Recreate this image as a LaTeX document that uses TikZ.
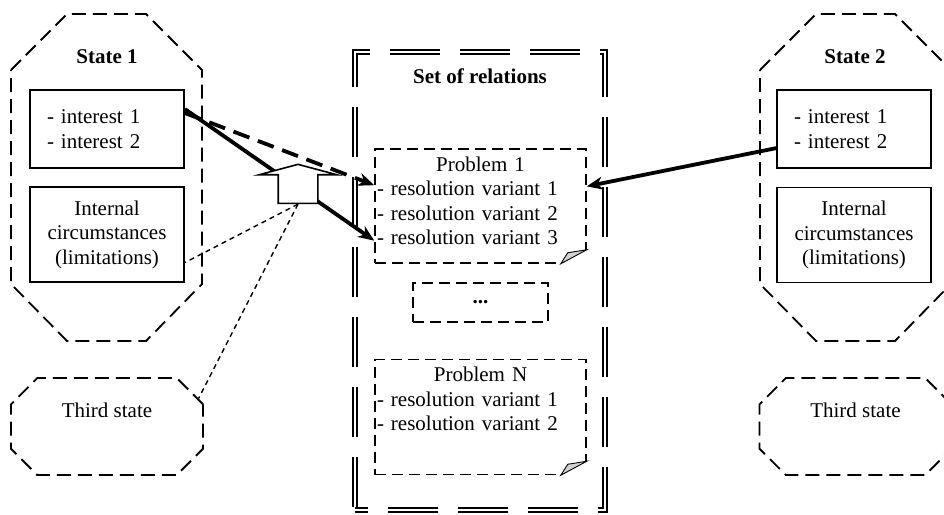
\documentclass[tikz,border=0pt]{standalone}
\usepackage{fontspec}
\setmainfont{Liberation Serif}
\usetikzlibrary{positioning, calc, arrows.meta,
shapes.misc, % chamfered rectangle for the third states
shapes.arrows % the white block arrow
}
\tikzset{%
  every node/.style={font=\fontsize{21}{24.5}\selectfont},
  statedash/.style={line width=1.8pt, dash pattern=on 14pt off 7pt},
  thirdbox/.style={chamfered rectangle, chamfered rectangle xsep=29pt, draw, statedash,
    minimum width=192pt, minimum height=97pt, inner sep=0pt, align=center},
  title/.style={font=\fontsize{21}{24.5}\selectfont\bfseries},
  intbox/.style={draw, line width=1.8pt, text width=120pt, inner xsep=17pt, minimum height=78pt, align=left},
  limbox/.style={draw, line width=1.8pt, minimum width=154pt, minimum height=95pt, align=center},
  relbox/.style={draw, double, double distance=2.4pt, line width=1.6pt, dash pattern=on 50pt off 20pt,
    dash phase=37pt, minimum width=250pt, minimum height=458pt},
  probbox/.style={draw, line width=1.5pt, dash pattern=on 11pt off 6pt, text width=207pt, inner xsep=2pt,
    inner ysep=0pt, text height=22pt, text depth=92pt, align=left},
  dotsbox/.style={draw, line width=1.5pt, dash pattern=on 11pt off 6pt, minimum width=135pt, minimum height=39pt},
  uparrow/.style={single arrow, draw, fill=white, line width=1.6pt, rotate=90, inner xsep=0pt, inner ysep=19pt,
    minimum height=39pt, single arrow head extend=19pt, single arrow tip angle=150},
  bigline/.style={line width=3.8pt, -{Stealth[length=16pt, width=13pt, inset=5pt]}},
  bigdash/.style={bigline, dash pattern=on 17pt off 9pt},
  thinlink/.style={line width=1.4pt, dash pattern=on 5pt off 4pt}
}

\begin{document}
\begin{tikzpicture}[x=1pt, y=-1pt]
\clip (0,0) rectangle (944,514);

% the two state octagons
\foreach \cx in {106.5, 855.5} {
  \draw[statedash] (\cx-95.5,70) -- (\cx-39.5,14) -- (\cx+39.5,14) -- (\cx+95.5,70)
    -- (\cx+95.5,284) -- (\cx+39.5,341) -- (\cx-39.5,341) -- (\cx-95.5,284) -- cycle;
}

% state 1
\node[title] (s1title) at (107,57) {State 1};
\node[intbox] (s1int) at (107,129) {- interest 1\\- interest 2};
\node[limbox] (s1lim) at (107,234.5) {Internal\\circumstances\\(limitations)};
\node[thirdbox] (third1) at (107,426.5) {Third state\\\strut};

% state 2
\node[title] (s2title) at (855,57) {State 2};
\node[intbox] (s2int) at (854,129) {- interest 1\\- interest 2};
\node[limbox] (s2lim) at (854,235) {Internal\\circumstances\\(limitations)};
\node[thirdbox] (third2) at (855.5,426.5) {Third state\\\strut};

% set of relations
\node[relbox] (rel) at (480,281) {};
\node[title] (reltitle) at ([yshift=-25pt]rel.north) {Set of relations};
\node[probbox] (prob1) at (480.5,206) {{\centering Problem 1\par}- resolution variant 1\\- resolution variant 2\\- resolution variant 3};
\node[dotsbox] (dots) at (480.5,302.5) {\textbf{...}};
\node[probbox, text depth=93pt] (probN) at (480.5,417) {{\centering Problem N\par}- resolution variant 1\\- resolution variant 2};

% folded corners
\foreach \p in {prob1, probN} {
  \fill[white] ([xshift=-26pt]\p.south east) -- ([yshift=14pt]\p.south east)
    -- ([shift={(3pt,-3pt)}]\p.south east) -- cycle;
  \filldraw[fill=gray!35, line width=0.9pt] ([xshift=-26pt]\p.south east) -- ([yshift=14pt]\p.south east)
    -- ([shift={(-19pt,11pt)}]\p.south east) -- cycle;
}

% links
\draw[bigline] ($(s1int.north east)!0.25!(s1int.south east)$) -- ($(prob1.north west)!0.8!(prob1.south west)$);
\draw[bigdash] ($(s1int.north east)!0.3!(s1int.south east)$) -- ($(prob1.north west)!0.32!(prob1.south west)$);
\draw[bigline] ($(s2int.north west)!0.74!(s2int.south west)$) -- ($(prob1.north east)!0.33!(prob1.south east)$);

\node[uparrow] (push) at (298,186.5) {};
\draw[thinlink] (push.tail) -- ($(s1lim.north east)!0.79!(s1lim.south east)$);
\draw[thinlink] (push.tail) -- (third1.17);

\end{tikzpicture}
\end{document}
